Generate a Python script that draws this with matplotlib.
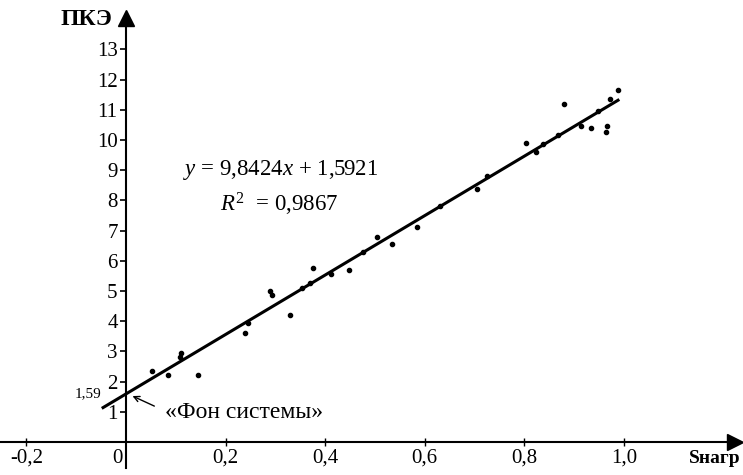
import matplotlib
matplotlib.use("Agg")
from matplotlib import pyplot as plt
import numpy as np

plt.rcParams["font.family"] = ["Liberation Serif", "DejaVu Serif"]
plt.rcParams["mathtext.fontset"] = "custom"
plt.rcParams["mathtext.rm"] = "Liberation Serif"
plt.rcParams["mathtext.it"] = "Liberation Serif:italic"

# точки измерений (Sнагр, ПКЭ)
s_nagr = [0.053, 0.085, 0.108, 0.110, 0.144, 0.239, 0.244, 0.290, 0.294,
          0.329, 0.354, 0.369, 0.375, 0.412, 0.447, 0.475, 0.505, 0.535,
          0.584, 0.631, 0.705, 0.724, 0.804, 0.823, 0.837, 0.868, 0.880,
          0.914, 0.934, 0.947, 0.964, 0.965, 0.972, 0.987]
pke = [2.36, 2.21, 2.80, 2.96, 2.21, 3.62, 3.95, 5.00, 4.88,
       4.19, 5.11, 5.27, 5.77, 5.55, 5.68, 6.30, 6.80, 6.55,
       7.11, 7.81, 8.39, 8.82, 9.90, 9.59, 9.87, 10.17, 11.18,
       10.46, 10.39, 10.97, 10.25, 10.46, 11.35, 11.66]

# линия тренда
k_trend = 9.8424
b_trend = 1.5921
x_trend = [-0.046, 0.988]

xticks = [-0.2, 0.2, 0.4, 0.6, 0.8, 1.0]
xtick_labels = ["-0,2", "0,2", "0,4", "0,6", "0,8", "1,0"]
yticks = list(range(1, 14))

fig = plt.figure(figsize=(7.43, 4.75), dpi=100)
ax = fig.add_axes([0, 0, 1, 1])
ax.set_xlim(-0.253, 1.239)
ax.set_ylim(-1.093, 14.636)

for sp in ["top", "right"]:
    ax.spines[sp].set_visible(False)
ax.spines["left"].set_position(("data", 0))
ax.spines["bottom"].set_position(("data", 0))
ax.spines["left"].set_bounds(-0.85, 14.0)
ax.spines["bottom"].set_bounds(-0.253, 1.22)
ax.spines["left"].set_linewidth(1.5)
ax.spines["bottom"].set_linewidth(1.5)

# стрелки осей
ax.plot(0, 14.05, marker="^", color="k", ms=11, clip_on=False)
ax.plot(1.222, 0, marker=">", color="k", ms=11, clip_on=False)

ax.set_xticks(xticks)
ax.set_xticklabels(xtick_labels)
ax.set_yticks(yticks)
ax.tick_params(axis="x", direction="inout", length=6, width=1, labelsize=15, pad=2)
ax.tick_params(axis="y", direction="out", length=4, width=1.2, labelsize=15, pad=2)

ax.text(-0.018, -0.55, "0", fontsize=15, ha="center", va="center")

xt = np.array(x_trend)
ax.plot(xt, k_trend * xt + b_trend, color="k", lw=2.2)
ax.plot(s_nagr, pke, "o", color="k", ms=3)

ax.text(0.114, 9.0, r"$y$ = 9,8424$x$ + 1,5921", fontsize=16.5, va="center")
ax.text(0.188, 7.87, r"$R^2$  = 0,9867", fontsize=16.5, va="center")

ax.text(-0.050, 1.59, "1,59", fontsize=11, ha="right", va="center")
ax.annotate("", xy=(0.008, 1.56), xytext=(0.062, 1.15),
            arrowprops=dict(arrowstyle="->", color="k", lw=1))
ax.text(0.078, 0.98, "«Фон системы»", fontsize=17, va="center")

ax.text(-0.028, 14.0, "ПКЭ", fontsize=17, fontweight="bold", ha="right", va="center")
ax.text(1.235, -0.55, "Sнагр", fontsize=14, fontweight="bold", ha="right", va="center")

fig.savefig("out.png", dpi=100)
